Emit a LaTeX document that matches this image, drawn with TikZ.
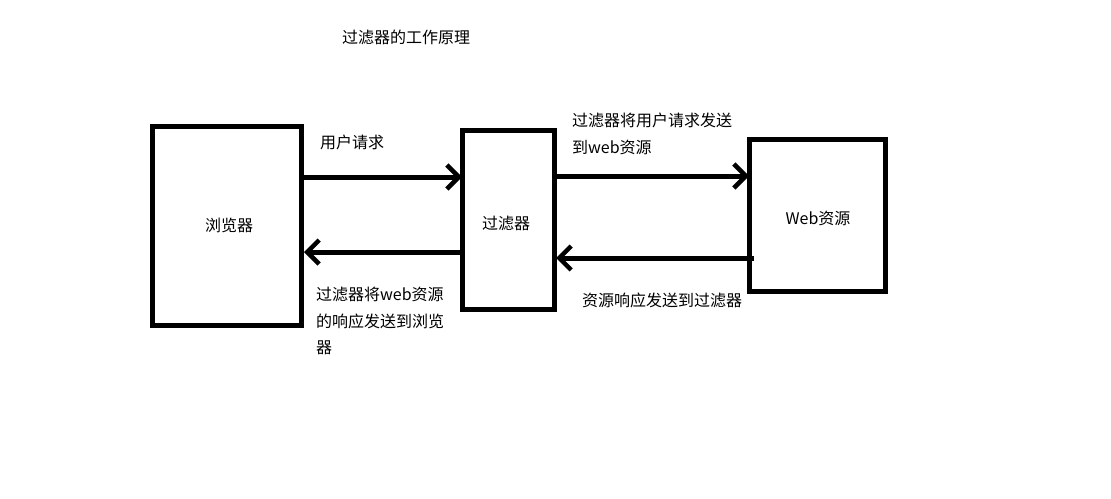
\documentclass[tikz,border=0pt]{standalone}
\usepackage{fontspec}
\setmainfont{Noto Sans CJK SC}
\usetikzlibrary{arrows.meta}
\begin{document}
\begin{tikzpicture}[x=1pt,y=-1pt,
  box/.style={draw=black,line width=5pt},
  flow/.style={line width=5pt,-{Straight Barb[length=12pt,width=24pt,line width=4.5pt]}},
  lbl/.style={font=\fontsize{16}{26.5}\selectfont,inner sep=0pt},
  note/.style={font=\fontsize{16}{26.5}\selectfont,inner sep=0pt,align=left,anchor=north west}]
\useasboundingbox (0,0) rectangle (1111,498);
\fill[white] (0,0) rectangle (1111,498);
% boxes
\draw[box] (152.5,126) rectangle (301.5,325.5);
\draw[box] (462.5,130.5) rectangle (554.5,309.5);
\draw[box] (749,139) rectangle (885.5,291);
\coordinate (bR1) at (304,177);
\coordinate (fL1) at (462,177);
\coordinate (fL2) at (460,252);
\coordinate (bR2) at (304,252);
\coordinate (fR1) at (557,176);
\coordinate (wL1) at (749,176);
\coordinate (wL2) at (754,258);
\coordinate (fR2) at (556,258);
\node[lbl] (browser) at (229,225) {浏览器};
\node[lbl] (filter) at (506,223) {过滤器};
\node[lbl] (web) at (818,218) {Web资源};
\node[lbl] (title) at (406,37) {过滤器的工作原理};
% arrows
\draw[flow] (bR1) -- (fL1);
\draw[flow] (fL2) -- (bR2);
\draw[flow] (fR1) -- (wL1);
\draw[flow] (wL2) -- (fR2);
% labels
\node[lbl,anchor=west] (req) at (320,142) {用户请求};
\node[note] (fwd) at (572,113) {过滤器将用户请求发送\\到web资源};
\node[lbl,anchor=west] (resp) at (582,300) {资源响应发送到过滤器};
\node[note] (back) at (316,287) {过滤器将web资源\\的响应发送到浏览\\器};
\end{tikzpicture}
\end{document}
